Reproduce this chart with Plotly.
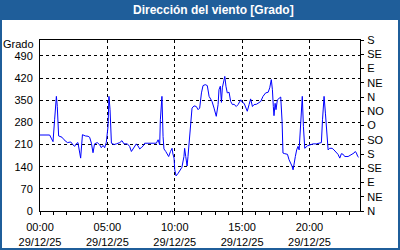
import pandas as pd
import plotly.graph_objects as go

# minutes after 29/12/25 00:00 and wind direction in degrees
minutes = [0, 43, 50, 58, 65, 73, 77, 83, 98, 107, 122, 137, 147, 154, 162, 169, 177, 181, 189, 202,
           214, 221, 229, 236, 243, 255, 266, 273, 281, 288, 295, 303, 307, 312, 318, 330, 340, 355,
           365, 374, 389, 399, 407, 414, 422, 429, 437, 444, 451, 459, 466, 481, 511, 518, 526, 533,
           536, 540, 543, 548, 552, 560, 567, 573, 581, 588, 592, 597, 600, 606, 615, 627, 632, 641,
           644, 649, 655, 659, 664, 670, 677, 686, 696, 704, 711, 719, 726, 736, 745, 753, 760, 766,
           775, 785, 793, 797, 803, 808, 812, 817, 823, 828, 834, 842, 849, 857, 864, 874, 882, 894,
           901, 909, 916, 923, 931, 938, 946, 953, 964, 971, 983, 993, 1005, 1016, 1023, 1030, 1035,
           1039, 1042, 1047, 1051, 1057, 1064, 1072, 1078, 1082, 1090, 1102, 1109, 1117, 1122, 1127,
           1131, 1137, 1143, 1149, 1154, 1160, 1164, 1168, 1173, 1179, 1191, 1201, 1216, 1231, 1246,
           1253, 1258, 1262, 1265, 1271, 1277, 1283, 1290, 1301, 1309, 1320, 1327, 1335, 1342, 1350,
           1357, 1372, 1387, 1398, 1404, 1409, 1415, 1419]
direction = [240, 240, 230, 219, 288, 362, 330, 237, 233, 225, 216, 218, 209, 204, 213, 216, 183, 167, 241, 237,
             236, 233, 214, 184, 212, 216, 209, 200, 207, 200, 216, 267, 362, 320, 214, 210, 212, 216,
             222, 212, 212, 204, 188, 196, 204, 212, 205, 196, 200, 205, 214, 214, 216, 214, 225, 209,
             288, 320, 362, 235, 196, 188, 180, 172, 188, 198, 180, 167, 130, 111, 119, 130, 138, 172,
             198, 172, 142, 172, 214, 288, 325, 332, 330, 320, 325, 373, 396, 399, 396, 362, 351, 346,
             325, 299, 336, 383, 394, 343, 389, 410, 425, 394, 373, 375, 346, 336, 337, 330, 336, 351,
             343, 340, 325, 315, 336, 354, 330, 336, 337, 340, 346, 362, 373, 375, 389, 415, 383,
             330, 301, 340, 320, 351, 355, 360, 283, 183, 181, 179, 162, 151, 142, 130,
             151, 172, 193, 204, 193, 267, 341, 362, 267, 198, 206, 209, 212, 212, 214,
             216, 288, 330, 362, 309, 235, 193, 198, 198, 193, 185, 179, 167, 181, 179,
             172, 172, 178, 183, 188, 183, 172, 170]

left_ticks = [0, 70, 140, 210, 280, 350, 420, 490]
right_ticks = [0, 45, 90, 135, 180, 225, 270, 315, 360, 405, 450, 495, 540]
right_labels = ["N", "NE", "E", "SE", "S", "SO", "O", "NO", "N", "NE", "E", "SE", "S"]
title_text = "Dirección del viento [Grado]"
unit_label = "Grado"

start = pd.Timestamp("2025-12-29 00:00")
times = [start + pd.Timedelta(minutes=m) for m in minutes]

BLUE = "#1f5e9a"
FONT = "Liberation Sans"

fig = go.Figure()
fig.add_trace(go.Scatter(x=times, y=direction, mode="lines",
                         line=dict(color="#0000ff", width=1), hoverinfo="skip", showlegend=False))
fig.add_trace(go.Scatter(x=times, y=direction, mode="lines", yaxis="y2",
                         line=dict(color="rgba(0,0,0,0)", width=0), hoverinfo="skip", showlegend=False))

L, R, T, B = 40, 40, 40, 39
W, H = 400, 250
pw, ph = W - L - R, H - T - B


def px(x):
    return (x - L) / pw


def py(y):
    return (H - B - y) / ph


fig.update_layout(
    width=W, height=H,
    margin=dict(l=L, r=R, t=T, b=B, pad=0, autoexpand=False),
    paper_bgcolor="white", plot_bgcolor="white",
    font=dict(family=FONT, size=11, color="#000000"),
    xaxis=dict(
        range=[start, start + pd.Timedelta(minutes=1425)],
        type="date", tick0=start, dtick=5 * 3600 * 1000,
        tickformat="%H:%M<br>%d/%m/%y", automargin=False,
        ticks="outside", ticklen=3, tickcolor="black", ticklabelstandoff=3,
        showgrid=True, gridcolor="black", griddash="3px,3px", gridwidth=1,
        showline=True, linecolor="black", linewidth=1, mirror=True,
        zeroline=False,
        minor=dict(dtick=3600 * 1000, tick0=start, ticks="outside", ticklen=3,
                   tickcolor="black", showgrid=False),
    ),
    yaxis=dict(
        range=[0, 540], tickvals=left_ticks, automargin=False,
        showgrid=True, gridcolor="black", griddash="3px,3px", gridwidth=1,
        showline=True, linecolor="black", linewidth=1, mirror=True,
        zeroline=False, ticks="", ticklabelstandoff=4,
    ),
    yaxis2=dict(
        range=[0, 540], tickvals=right_ticks, ticktext=right_labels, automargin=False,
        overlaying="y", side="right", showgrid=False, zeroline=False,
        showline=True, linecolor="black", linewidth=1,
        ticks="outside", ticklen=3, tickcolor="black", ticklabelstandoff=1,
    ),
    shapes=[
        dict(type="rect", xref="paper", yref="paper", x0=px(0), x1=px(W), y0=py(20), y1=py(0),
             fillcolor=BLUE, line=dict(width=0), layer="above"),
        dict(type="rect", xref="paper", yref="paper", x0=px(0), x1=px(W), y0=py(H), y1=py(0),
             fillcolor="rgba(0,0,0,0)", line=dict(color=BLUE, width=4), layer="above"),
    ],
    annotations=[
        dict(text="<b>" + title_text + "</b>", xref="paper", yref="paper", x=px(213), y=py(10),
             xanchor="center", yanchor="middle", showarrow=False,
             font=dict(family=FONT, size=12, color="white")),
        dict(text=unit_label, xref="paper", yref="paper", x=px(36), y=py(44.5),
             xanchor="right", yanchor="middle", showarrow=False,
             font=dict(family=FONT, size=11, color="#000000")),
    ],
)

fig.write_html("out.html")
